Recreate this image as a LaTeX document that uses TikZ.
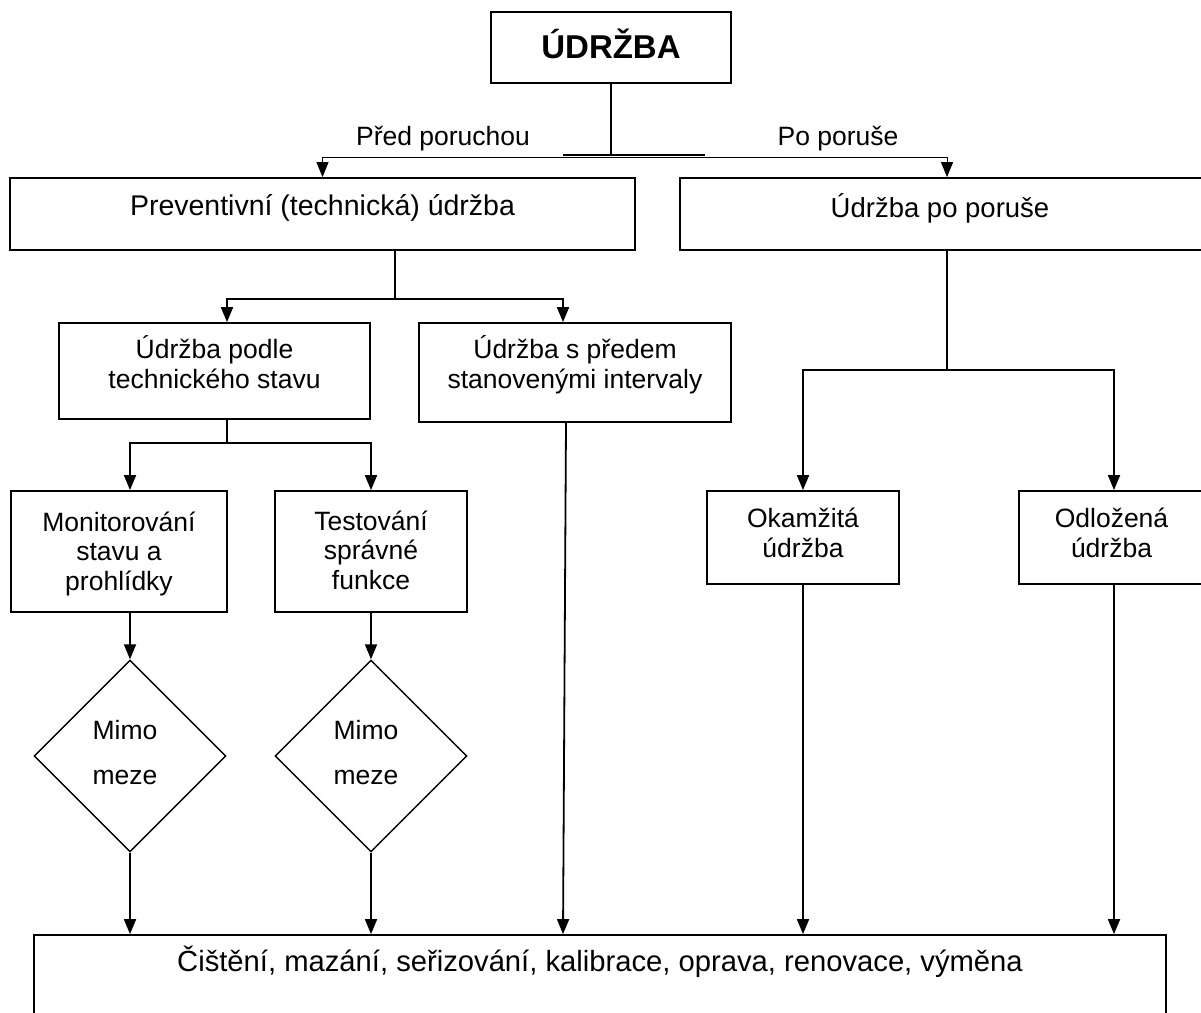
\documentclass[tikz,border=0pt]{standalone}
\usepackage{fontspec}
\setmainfont{Liberation Sans}
\usetikzlibrary{arrows.meta,shapes.geometric}
\newcommand{\mlines}[1]{\vbox{\halign{\hfil##\hfil\cr#1\crcr}}}
\tikzset{
  box/.style={draw, rectangle, line width=1.8pt, inner sep=0pt, font=\fontsize{26.5}{29.5}\selectfont},
  dia/.style={draw, diamond, shape aspect=1, line width=1.4pt, inner sep=0pt, minimum width=192pt, minimum height=192pt, font=\fontsize{26.5}{45}\selectfont, text height=70pt, text depth=14pt},
  conn/.style={line width=1.8pt},
  thinconn/.style={line width=1pt},
  arr/.style={-{Triangle[length=15pt,width=12pt]}},
  lbl/.style={font=\fontsize{26.5}{29.5}\selectfont, inner sep=0pt, anchor=base},
}
\begin{document}
\begin{tikzpicture}[x=1pt,y=-1pt]
\useasboundingbox (0,0) rectangle (1201,1012);
\clip (0,0) rectangle (1201,1012);
% nodes
\node[box, font=\fontsize{33}{36}\selectfont\bfseries, minimum width=240pt, text height=46pt, text depth=25pt] (top) at (611,47.5) {ÚDRŽBA};
\node[box, font=\fontsize{28.5}{31}\selectfont, minimum width=625pt, text height=37pt, text depth=35pt] (prev) at (322.5,214) {Preventivní (technická) údržba};
\node[box, font=\fontsize{27.5}{30}\selectfont, minimum width=524pt, text height=39pt, text depth=33pt] (after) at (942,214) {Údržba po poruše\hspace*{4pt}};
\node[box, minimum width=311pt, text height=65pt, text depth=31pt] (podle) at (214.5,371) {\mlines{Údržba podle\cr technického stavu}};
\node[box, minimum width=312pt, text height=65pt, text depth=34pt] (predem) at (575,372.5) {\mlines{Údržba s předem\cr stanovenými intervaly}};
\node[box, minimum width=216pt, text height=99pt, text depth=22pt] (mon) at (119,551.5) {\mlines{Monitorování\cr stavu a\cr prohlídky}};
\node[box, minimum width=192pt, text height=98pt, text depth=23pt] (test) at (371,551.5) {\mlines{Testování\cr správné\cr funkce}};
\node[box, minimum width=192pt, text height=66pt, text depth=27pt] (okam) at (803,537.5) {\mlines{Okamžitá\cr údržba}};
\node[box, minimum width=185pt, text height=66pt, text depth=27pt] (odloz) at (1111.5,537.5) {\mlines{Odložená\cr údržba}};
\node[dia] (d1) at (130,756) {\mlines{Mimo\cr meze}\hspace*{10pt}};
\node[dia] (d2) at (371,756) {\mlines{Mimo\cr meze}\hspace*{10pt}};
\node[box, font=\fontsize{29.2}{32}\selectfont, minimum width=1132pt, text height=36pt, text depth=69pt] (bottom) at (600,987.5) {Čištění, mazání, seřizování, kalibrace, oprava, renovace, výměna};
\node[lbl] (lpred) at (443,145) {Před poruchou};
\node[lbl] (lpo) at (838,145) {Po poruše};
% junctions
\coordinate (j0) at (611,155);
\coordinate (j0l) at (563,155);
\coordinate (j0r) at (705,155);
\coordinate (j1) at (611,157);
\coordinate (j2) at (395,299);
\coordinate (j3) at (227,443);
\coordinate (j4) at (947,370);
\coordinate (afin) at ([xshift=5pt]after.north);
\coordinate (afout) at ([xshift=5pt]after.south);
\coordinate (pvout) at ([xshift=72.5pt]prev.south);
\coordinate (pdin) at ([xshift=12.5pt]podle.north);
\coordinate (pdout) at ([xshift=12.5pt]podle.south);
\coordinate (prin) at ([xshift=-12pt]predem.north);
\coordinate (prout) at ([xshift=-9pt]predem.south);
\coordinate (monin) at ([xshift=11pt]mon.north);
\coordinate (monout) at ([xshift=11pt]mon.south);
\coordinate (ozin) at ([xshift=2.5pt]odloz.north);
\coordinate (ozout) at ([xshift=2.5pt]odloz.south);
\coordinate (btin) at ([xshift=-37pt]bottom.north);
% connectors
\draw[conn] (top.south) -- (j0);
\draw[conn] (j0l) -- (j0r);
\draw[thinconn,arr] (j1) -| (prev.north);
\draw[thinconn,arr] (j1) -| (afin);
\draw[conn] (pvout) -- (j2);
\draw[conn,arr] (j2) -| (pdin);
\draw[conn,arr] (j2) -| (prin);
\draw[conn] (pdout) -- (j3);
\draw[conn,arr] (j3) -| (monin);
\draw[conn,arr] (j3) -| (test.north);
\draw[conn] (afout) -- (j4);
\draw[conn,arr] (j4) -| (okam.north);
\draw[conn,arr] (j4) -| (ozin);
\draw[conn,arr] (monout) -- (d1.north);
\draw[conn,arr] (test.south) -- (d2.north);
\draw[conn,arr] (d1.south) -- (d1.south |- bottom.north);
\draw[conn,arr] (d2.south) -- (d2.south |- bottom.north);
\draw[conn,arr] (prout) -- (btin);
\draw[conn,arr] (okam.south) -- (okam.south |- bottom.north);
\draw[conn,arr] (ozout) -- (ozout |- bottom.north);
\end{tikzpicture}
\end{document}
